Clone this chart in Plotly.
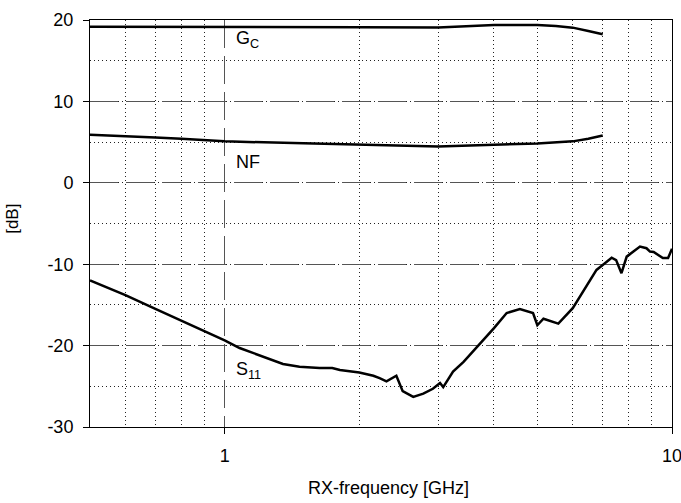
import plotly.graph_objects as go

# ---- data ----
freq_gc = [0.5, 0.7, 1.0, 1.5, 2.0, 3.0, 3.5, 4.0, 4.5, 5.0, 5.5, 6.0, 6.5, 7.0]
gc_db = [19.18, 19.18, 19.15, 19.12, 19.1, 19.08, 19.3, 19.4, 19.4, 19.38, 19.25, 19.06, 18.65, 18.25]

freq_nf = [0.5, 0.6, 0.7, 0.8, 0.9, 1.0, 1.5, 2.0, 3.0, 4.0, 5.0, 6.0, 6.5, 7.0]
nf_db = [5.9, 5.75, 5.58, 5.4, 5.25, 5.09, 4.85, 4.68, 4.47, 4.68, 4.84, 5.09, 5.4, 5.82]

freq_s11 = [0.5, 0.6, 0.7, 0.8, 0.9, 1.0, 1.08, 1.2, 1.35, 1.47, 1.63, 1.74, 1.81,
            2.0, 2.15, 2.22, 2.30, 2.42, 2.50, 2.64, 2.78, 2.92, 3.03, 3.08, 3.24,
            3.42, 3.72, 4.0, 4.27, 4.57, 4.89, 5.0, 5.16, 5.57, 6.0, 6.44, 6.78,
            7.0, 7.33, 7.5, 7.71, 7.92, 8.2, 8.48, 8.77, 8.93, 9.1, 9.54, 9.8, 10.0]
s11_db = [-12.0, -13.8, -15.5, -16.95, -18.25, -19.35, -20.3, -21.25, -22.25, -22.6,
          -22.75, -22.75, -23.0, -23.3, -23.7, -24.0, -24.4, -23.7, -25.6, -26.3,
          -25.9, -25.3, -24.6, -25.1, -23.2, -22.0, -19.8, -17.85, -16.0, -15.5,
          -16.0, -17.5, -16.7, -17.3, -15.4, -12.7, -10.7, -10.1, -9.2, -9.5,
          -11.1, -9.07, -8.45, -7.84, -8.04, -8.45, -8.5, -9.25, -9.25, -8.1]

x_major = [1, 10]
x_major_text = ["1", "10"]
x_minor = [0.6, 0.7, 0.8, 0.9, 2, 3, 4, 5, 6, 7, 8, 9]
y_major = [-30, -20, -10, 0, 10, 20]
y_major_text = ["-30", "-20", "-10", "0", "10", "20"]

FONT = "Liberation Sans"
W, H = 681, 503
# plot area in page pixels
L, R, T, B = 90, 672.5, 19.5, 427.0

fig = go.Figure()
line_style = dict(color="black", width=2.5)
for xs, ys, nm in [(freq_gc, gc_db, "GC"), (freq_nf, nf_db, "NF"), (freq_s11, s11_db, "S11")]:
    fig.add_trace(go.Scatter(x=xs, y=ys, mode="lines", line=line_style, name=nm,
                             showlegend=False, hoverinfo="skip"))

fig.update_layout(
    width=W, height=H,
    margin=dict(l=L, r=W - R, t=T, b=H - B, autoexpand=False),
    paper_bgcolor="white", plot_bgcolor="white",
    font=dict(family=FONT, size=18, color="black"),
    showlegend=False,
)

fig.update_xaxes(
    type="log", range=[-0.30103, 1.0], automargin=False,
    tickmode="array", tickvals=x_major, ticktext=x_major_text,
    ticks="outside", ticklen=6, tickcolor="black", tickwidth=1,
    ticklabeloverflow="allow",
    showgrid=True, gridcolor="#555555", gridwidth=1, griddash="28px,8px",
    minor=dict(tickmode="array", tickvals=x_minor, showgrid=True,
               gridcolor="#222222", gridwidth=1, griddash="1px,3px", ticks=""),
    showline=True, linecolor="black", linewidth=1, mirror=True,
    zeroline=False, ticklabelstandoff=6,
    tickfont=dict(size=18, family=FONT),
)
fig.update_yaxes(
    range=[-30, 20], automargin=False,
    tickmode="array", tickvals=y_major, ticktext=y_major_text,
    ticks="outside", ticklen=6, tickcolor="black", tickwidth=1,
    ticklabeloverflow="allow",
    showgrid=True, gridcolor="#555555", gridwidth=1, griddash="28px,8px",
    minor=dict(dtick=5, showgrid=True, gridcolor="#222222", gridwidth=1,
               griddash="1px,3px", ticks=""),
    showline=True, linecolor="black", linewidth=1, mirror=True,
    zeroline=False, ticklabelstandoff=6,
    tickfont=dict(size=18, family=FONT),
)

annots = [
    dict(x=0.0212, y=17.6, text="G<sub>C</sub>"),
    dict(x=0.0212, y=2.6, text="NF"),
    dict(x=0.0212, y=-23.0, text="S<sub>11</sub>"),
]
for a in annots:
    fig.add_annotation(x=a["x"], y=a["y"], xref="x", yref="y", text=a["text"],
                       showarrow=False, xanchor="left", yanchor="middle",
                       font=dict(size=18, family=FONT, color="black"))

fig.add_annotation(text="RX-frequency [GHz]", xref="paper", yref="paper",
                   x=(389 - L) / (R - L), y=(B - 488) / (B - T),
                   xanchor="center", yanchor="middle", showarrow=False,
                   font=dict(size=18, family=FONT, color="black"))
fig.add_annotation(text="[dB]", xref="paper", yref="paper",
                   x=(12.5 - L) / (R - L), y=(B - 219) / (B - T),
                   showarrow=False, textangle=-90, xanchor="center", yanchor="middle",
                   font=dict(size=17, family=FONT, color="black"))

fig.write_html("out.html",
               config={"displayModeBar": False, "staticPlot": True},
               post_script="document.body.style.margin='0';document.body.style.overflow='hidden';")
